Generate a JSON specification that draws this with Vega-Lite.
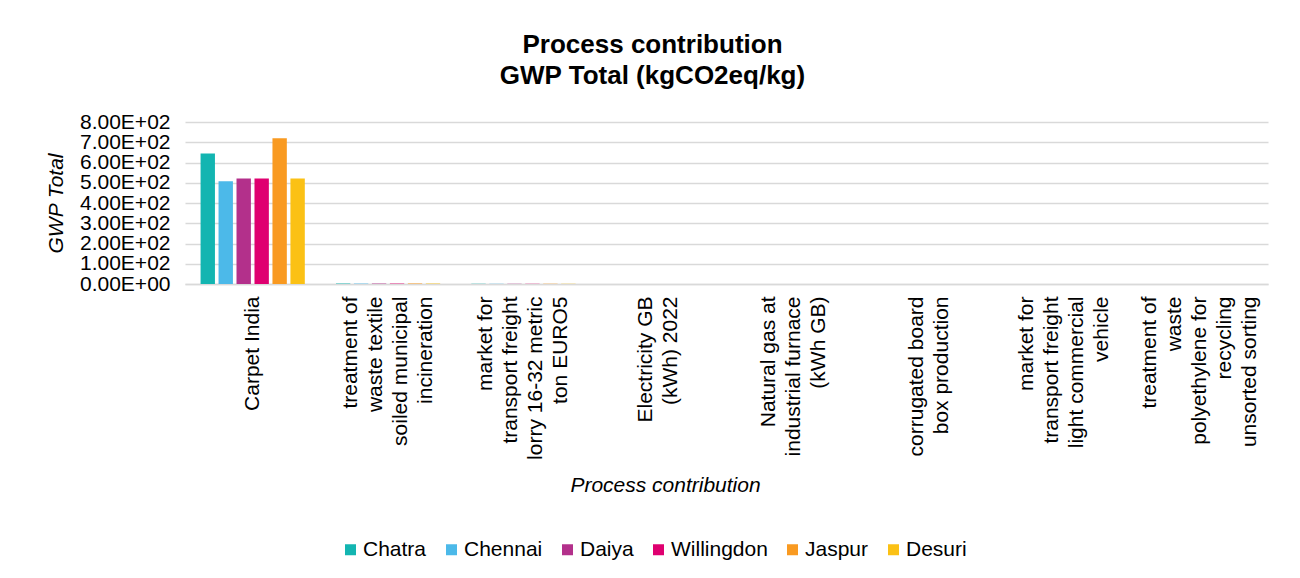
{
  "$schema": "https://vega.github.io/schema/vega-lite/v6.json",
  "width": 1083,
  "height": 162,
  "autosize": {"type": "none"},
  "padding": {"left": 185, "top": 122, "right": 32, "bottom": 294},
  "background": "white",
  "title": {
    "text": ["Process contribution", "GWP Total (kgCO2eq/kg)"],
    "font": "Liberation Sans",
    "fontSize": 26,
    "fontWeight": "bold",
    "lineHeight": 31,
    "color": "#000000",
    "anchor": "middle",
    "frame": "group",
    "dx": -74,
    "offset": 22
  },
  "data": {
    "values": [
      {"process": "Carpet India", "site": "Chatra", "gwp": 645},
      {"process": "Carpet India", "site": "Chennai", "gwp": 508},
      {"process": "Carpet India", "site": "Daiya", "gwp": 521},
      {"process": "Carpet India", "site": "Willingdon", "gwp": 521},
      {"process": "Carpet India", "site": "Jaspur", "gwp": 720},
      {"process": "Carpet India", "site": "Desuri", "gwp": 521},
      {"process": "treatment of|waste textile|soiled municipal|incineration", "site": "Chatra", "gwp": 2.2},
      {"process": "treatment of|waste textile|soiled municipal|incineration", "site": "Chennai", "gwp": 1.9},
      {"process": "treatment of|waste textile|soiled municipal|incineration", "site": "Daiya", "gwp": 2.0},
      {"process": "treatment of|waste textile|soiled municipal|incineration", "site": "Willingdon", "gwp": 2.0},
      {"process": "treatment of|waste textile|soiled municipal|incineration", "site": "Jaspur", "gwp": 2.4},
      {"process": "treatment of|waste textile|soiled municipal|incineration", "site": "Desuri", "gwp": 2.0},
      {"process": "market for|transport freight|lorry 16-32 metric|ton EURO5", "site": "Chatra", "gwp": 1.1},
      {"process": "market for|transport freight|lorry 16-32 metric|ton EURO5", "site": "Chennai", "gwp": 1.0},
      {"process": "market for|transport freight|lorry 16-32 metric|ton EURO5", "site": "Daiya", "gwp": 1.0},
      {"process": "market for|transport freight|lorry 16-32 metric|ton EURO5", "site": "Willingdon", "gwp": 1.0},
      {"process": "market for|transport freight|lorry 16-32 metric|ton EURO5", "site": "Jaspur", "gwp": 1.2},
      {"process": "market for|transport freight|lorry 16-32 metric|ton EURO5", "site": "Desuri", "gwp": 1.0},
      {"process": "Electricity GB|(kWh) 2022", "site": "Chatra", "gwp": 0.1},
      {"process": "Electricity GB|(kWh) 2022", "site": "Chennai", "gwp": 0.1},
      {"process": "Electricity GB|(kWh) 2022", "site": "Daiya", "gwp": 0.1},
      {"process": "Electricity GB|(kWh) 2022", "site": "Willingdon", "gwp": 0.1},
      {"process": "Electricity GB|(kWh) 2022", "site": "Jaspur", "gwp": 0.1},
      {"process": "Electricity GB|(kWh) 2022", "site": "Desuri", "gwp": 0.1},
      {"process": "Natural gas at|industrial furnace|(kWh GB)", "site": "Chatra", "gwp": 0.05},
      {"process": "Natural gas at|industrial furnace|(kWh GB)", "site": "Chennai", "gwp": 0.05},
      {"process": "Natural gas at|industrial furnace|(kWh GB)", "site": "Daiya", "gwp": 0.05},
      {"process": "Natural gas at|industrial furnace|(kWh GB)", "site": "Willingdon", "gwp": 0.05},
      {"process": "Natural gas at|industrial furnace|(kWh GB)", "site": "Jaspur", "gwp": 0.05},
      {"process": "Natural gas at|industrial furnace|(kWh GB)", "site": "Desuri", "gwp": 0.05},
      {"process": "corrugated board|box production", "site": "Chatra", "gwp": 0.05},
      {"process": "corrugated board|box production", "site": "Chennai", "gwp": 0.05},
      {"process": "corrugated board|box production", "site": "Daiya", "gwp": 0.05},
      {"process": "corrugated board|box production", "site": "Willingdon", "gwp": 0.05},
      {"process": "corrugated board|box production", "site": "Jaspur", "gwp": 0.05},
      {"process": "corrugated board|box production", "site": "Desuri", "gwp": 0.05},
      {"process": "market for|transport freight|light commercial|vehicle", "site": "Chatra", "gwp": 0.03},
      {"process": "market for|transport freight|light commercial|vehicle", "site": "Chennai", "gwp": 0.03},
      {"process": "market for|transport freight|light commercial|vehicle", "site": "Daiya", "gwp": 0.03},
      {"process": "market for|transport freight|light commercial|vehicle", "site": "Willingdon", "gwp": 0.03},
      {"process": "market for|transport freight|light commercial|vehicle", "site": "Jaspur", "gwp": 0.03},
      {"process": "market for|transport freight|light commercial|vehicle", "site": "Desuri", "gwp": 0.03},
      {"process": "treatment of|waste|polyethylene for|recycling|unsorted sorting", "site": "Chatra", "gwp": 0.02},
      {"process": "treatment of|waste|polyethylene for|recycling|unsorted sorting", "site": "Chennai", "gwp": 0.02},
      {"process": "treatment of|waste|polyethylene for|recycling|unsorted sorting", "site": "Daiya", "gwp": 0.02},
      {"process": "treatment of|waste|polyethylene for|recycling|unsorted sorting", "site": "Willingdon", "gwp": 0.02},
      {"process": "treatment of|waste|polyethylene for|recycling|unsorted sorting", "site": "Jaspur", "gwp": 0.02},
      {"process": "treatment of|waste|polyethylene for|recycling|unsorted sorting", "site": "Desuri", "gwp": 0.02}
    ]
  },
  "mark": {"type": "bar"},
  "encoding": {
    "x": {
      "field": "process",
      "type": "nominal",
      "sort": null,
      "scale": {"paddingInner": 0.23, "paddingOuter": 0.115},
      "axis": {
        "title": "Process contribution",
        "titleFontStyle": "italic",
        "titleFontWeight": "normal",
        "titleFont": "Liberation Sans",
        "titleFontSize": 21,
        "titleColor": "#000000",
        "titleX": 480,
        "titleY": 190,
        "titleAnchor": "middle",
        "titleAlign": "center",
        "labelExpr": "split(datum.label, '|')",
        "labelAngle": -90,
        "labelAlign": "right",
        "labelBaseline": "middle",
        "labelPadding": 12,
        "labelLimit": 400,
        "labelLineHeight": 25,
        "labelFont": "Liberation Sans",
        "labelFontSize": 21,
        "labelColor": "#000000",
        "labelOffset": {"expr": "-(length(split(datum.label, '|')) - 1) * 12.5"},
        "ticks": false,
        "domain": true,
        "domainColor": "#d9d9d9",
        "domainWidth": 1.5,
        "grid": false
      }
    },
    "xOffset": {
      "field": "site",
      "type": "nominal",
      "sort": ["Chatra", "Chennai", "Daiya", "Willingdon", "Jaspur", "Desuri"],
      "scale": {"paddingInner": 0.2}
    },
    "y": {
      "field": "gwp",
      "type": "quantitative",
      "scale": {"domain": [0, 800], "nice": false},
      "axis": {
        "title": "GWP Total",
        "titleFontStyle": "italic",
        "titleFontWeight": "normal",
        "titleFont": "Liberation Sans",
        "titleFontSize": 21,
        "titleColor": "#000000",
        "titlePadding": 13,
        "values": [0, 100, 200, 300, 400, 500, 600, 700, 800],
        "labelExpr": "datum.value == 0 ? '0.00E+00' : format(datum.value / 100, '.2f') + 'E+02'",
        "labelOverlap": false,
        "labelFont": "Liberation Sans",
        "labelFontSize": 21,
        "labelColor": "#000000",
        "labelPadding": 15,
        "ticks": false,
        "domain": false,
        "grid": true,
        "gridColor": "#d9d9d9",
        "gridWidth": 1.3
      }
    },
    "color": {
      "field": "site",
      "type": "nominal",
      "sort": ["Chatra", "Chennai", "Daiya", "Willingdon", "Jaspur", "Desuri"],
      "scale": {
        "domain": ["Chatra", "Chennai", "Daiya", "Willingdon", "Jaspur", "Desuri"],
        "range": ["#13b5b1", "#4cb9e9", "#b3308b", "#df0070", "#f99a21", "#fbc115"]
      },
      "legend": {
        "title": null,
        "orient": "none",
        "direction": "horizontal",
        "legendX": 155,
        "legendY": 417,
        "symbolType": "square",
        "symbolSize": 121,
        "symbolStrokeWidth": 0,
        "labelFont": "Liberation Sans",
        "labelFontSize": 21,
        "labelColor": "#000000",
        "labelOffset": 2,
        "columnPadding": 14
      }
    }
  },
  "config": {
    "view": {"stroke": null},
    "font": "Liberation Sans"
  }
}
